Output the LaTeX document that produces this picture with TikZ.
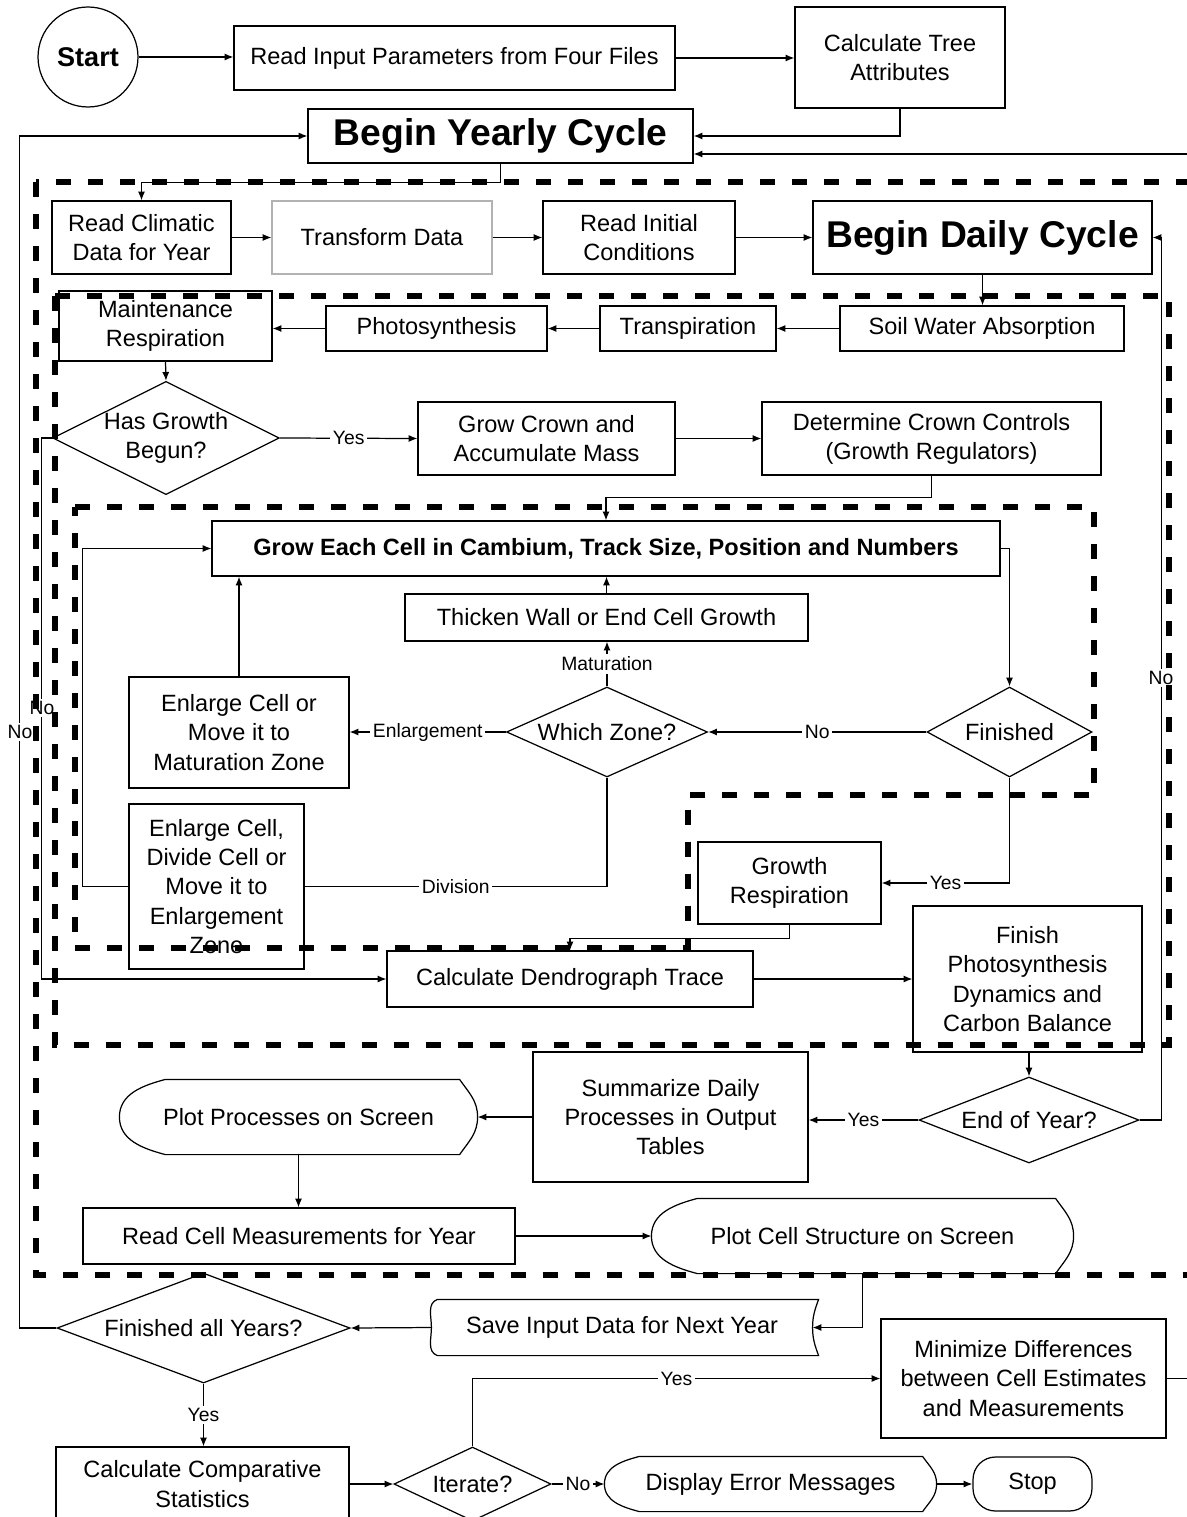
\documentclass[tikz,border=0pt]{standalone}
\usepackage{fontspec}
\setmainfont{Liberation Sans}
\usetikzlibrary{arrows.meta,shapes.geometric}
\newcommand{\boxfont}{\fontsize{13.4}{16.6}\selectfont}
\newcommand{\bigboxfont}{\fontsize{21.2}{25}\selectfont\bfseries}
\newcommand{\startfont}{\fontsize{15.4}{18}\selectfont\bfseries}
\newcommand{\lblfont}{\fontsize{11}{13}\selectfont}
% outline of a display node: #1 name, #2 left inset, #3 right inset
\newcommand{\screenshape}[3]{%
  \draw ([xshift=#2]#1.north west) -- ([xshift=-#3]#1.north east)
    to[out=-55,in=90] (#1.east) to[out=-90,in=55] ([xshift=-#3]#1.south east)
    -- ([xshift=#2]#1.south west) to[out=165,in=-90] (#1.west)
    to[out=90,in=195] ([xshift=#2]#1.north west);}
% outline of a stored data node
\newcommand{\storeshape}[1]{%
  \draw ([xshift=0.12cm]#1.north west) -- ([xshift=0.12cm]#1.north east)
    to[out=-110,in=90] (#1.east) to[out=-90,in=110] ([xshift=0.12cm]#1.south east)
    -- ([xshift=0.12cm]#1.south west) to[out=160,in=-90] (#1.west)
    to[out=90,in=200] ([xshift=0.12cm]#1.north west);}

\begin{document}
\begin{tikzpicture}[x=0.02cm, y=-0.02cm, line width=0.7pt,
    >={Latex[length=5pt,width=4pt]},
    box/.style={draw, align=center, inner sep=1pt, font=\boxfont},
    dec/.style={draw, diamond, aspect=2.5, inner sep=0pt, align=center, font=\boxfont},
    txt/.style={align=center, inner sep=0pt, font=\boxfont},
    lbl/.style={fill=white, inner sep=1.5pt, font=\lblfont},
    zone/.style={line width=3.1pt, dash pattern=on 0.3cm off 0.34cm}]
    \useasboundingbox (0,0) rectangle (1186,1517);

    % Start and yearly set-up
    \node[circle, draw, minimum size=2cm, inner sep=0pt, font=\startfont] (start) at (88,57) {Start};
    \node[box, minimum width=8.82cm, minimum height=1.28cm] (readin) at (454.5,58) {Read Input Parameters from Four Files};
    \node[box, minimum width=4.2cm, minimum height=2.02cm] (tree) at (900,57.5) {Calculate Tree\\Attributes};
    \node[box, font=\bigboxfont, minimum width=7.7cm, minimum height=1.08cm] (yearly) at (500.5,136) {Begin Yearly Cycle};

    \node[box, minimum width=3.58cm, minimum height=1.46cm] (climatic) at (141.5,237.5) {Read Climatic\\Data for Year};
    \node[box, draw=gray!60, minimum width=4.4cm, minimum height=1.46cm] (transform) at (382,237.5) {Transform Data};
    \node[box, minimum width=3.84cm, minimum height=1.46cm] (initial) at (639,237.5) {Read Initial\\Conditions};
    \node[box, font=\bigboxfont, minimum width=6.78cm, minimum height=1.46cm] (daily) at (982.5,237.5) {Begin Daily Cycle};

    % Daily processes
    \node[box, minimum width=4.26cm, minimum height=1.4cm] (maint) at (165.5,326) {Maintenance\\Respiration};
    \node[box, minimum width=4.42cm, minimum height=0.9cm] (photo) at (436.5,328.5) {Photosynthesis};
    \node[box, minimum width=3.52cm, minimum height=0.9cm] (transp) at (688,328.5) {Transpiration};
    \node[box, minimum width=5.68cm, minimum height=0.9cm] (soil) at (982,328.5) {Soil Water Absorption};

    \node[dec, aspect=2, minimum width=4.5cm, minimum height=2.2cm] (hasgrowth) at (166,438) {Has Growth\\Begun?};
    \node[box, minimum width=5.14cm, minimum height=1.46cm] (crown) at (546.5,438.5) {Grow Crown and\\Accumulate Mass};
    \node[box, minimum width=6.78cm, minimum height=1.46cm] (controls) at (931.5,438.5) {Determine Crown Controls\\(Growth Regulators)};

    % Cell loop
    \node[box, font=\boxfont\bfseries, minimum width=15.76cm, minimum height=1.1cm] (growcell) at (606,548.5) {Grow Each Cell in Cambium, Track Size, Position and Numbers};
    \node[box, minimum width=8.06cm, minimum height=0.94cm] (thicken) at (606.5,617.5) {Thicken Wall or End Cell Growth};
    \node[dec, minimum width=4.02cm, minimum height=1.8cm] (whichzone) at (607,732) {Which Zone?};
    \node[dec, minimum width=3.3cm, minimum height=1.8cm] (finished) at (1009.5,732) {Finished};
    \node[box, minimum width=4.4cm, minimum height=2.22cm] (enlarge) at (239,732.5) {Enlarge Cell or\\Move it to\\Maturation Zone};
    \node[box, minimum width=3.5cm, minimum height=3.3cm] (divide) at (216.5,886.5) {Enlarge Cell,\\Divide Cell or\\Move it to\\Enlargement\\Zone};
    \node[box, minimum width=3.66cm, minimum height=1.64cm] (growresp) at (789.5,883) {Growth\\Respiration};
    \node[box, minimum width=7.32cm, minimum height=1.12cm] (dendro) at (570,979) {Calculate Dendrograph Trace};
    \node[box, minimum width=4.58cm, minimum height=2.92cm] (finishps) at (1027.5,979) {Finish\\Photosynthesis\\Dynamics and\\Carbon Balance};

    % End of year
    \node[dec, minimum width=4.4cm, minimum height=1.72cm] (endyear) at (1029,1120) {End of Year?};
    \node[box, minimum width=5.5cm, minimum height=2.6cm] (summ) at (670.5,1117) {Summarize Daily\\Processes in Output\\Tables};
    \node[txt, minimum width=7.14cm, minimum height=1.48cm] (plotproc) at (298.5,1117) {Plot Processes on Screen};
    \node[box, minimum width=8.64cm, minimum height=1.12cm] (readcell) at (299,1236) {Read Cell Measurements for Year};
    \node[txt, minimum width=8.42cm, minimum height=1.48cm] (plotcell) at (862.5,1236) {Plot Cell Structure on Screen};
    \node[txt, minimum width=7.6cm, minimum height=1.1cm] (save) at (622,1327.5) {Save Input Data for Next Year};
    \screenshape{plotproc}{0.92cm}{0.36cm}
    \screenshape{plotcell}{0.92cm}{0.36cm}
    \storeshape{save}

    % Final checks
    \node[dec, minimum width=5.86cm, minimum height=2.2cm] (finall) at (203.5,1328) {Finished all Years?};
    \node[box, minimum width=5.86cm, minimum height=1.48cm] (calcstat) at (202.5,1484) {Calculate Comparative\\Statistics};
    \node[dec, minimum width=3.14cm, minimum height=1.48cm] (iterate) at (472.5,1484) {Iterate?};
    \node[box, minimum width=5.7cm, minimum height=2.38cm] (minimize) at (1023.5,1378.5) {Minimize Differences\\between Cell Estimates\\and Measurements};
    \node[txt, minimum width=6.62cm, minimum height=1.08cm] (errmsg) at (770.5,1484) {Display Error Messages};
    \node[box, rounded corners=0.45cm, minimum width=2.38cm, minimum height=1.08cm] (stop) at (1032.5,1484) {Stop};
    \screenshape{errmsg}{0.7cm}{0.28cm}

    % Connectors
    \draw[->] (start.east) -- (start.east -| readin.west);
    \draw[->] (readin.east) -- (readin.east -| tree.west);
    \draw[->] (tree.south) |- (yearly.east);
    \draw[->] (yearly.south) -- ++(0,19) -| (climatic.north);
    \draw[->] (climatic.east) -- (transform.west);
    \draw[->] (transform.east) -- (initial.west);
    \draw[->] (initial.east) -- (daily.west);
    \draw[->] (daily.south) -- (daily.south |- soil.north);
    \draw[->] (soil.west) -- (transp.east);
    \draw[->] (transp.west) -- (photo.east);
    \draw[->] (photo.west) -- (photo.west -| maint.east);
    \draw[->] (maint.south) -- (hasgrowth.north);
    \draw[->] (hasgrowth.east) -- node[lbl]{Yes} (crown.west);
    \draw[->] (crown.east) -- (controls.west);
    \draw[->] (controls.south) -- ++(0,22) -| (growcell.north);
    \draw[->] (growcell.east) -| (finished.north);
    \draw[->] (finished.west) -- node[lbl]{No} (whichzone.east);
    \draw[->] (whichzone.north) -- node[lbl]{Maturation} (whichzone.north |- thicken.south);
    \draw[->] (thicken.north) -- (thicken.north |- growcell.south);
    \draw[->] (whichzone.west) -- node[lbl]{Enlargement} (whichzone.west -| enlarge.east);
    \draw[->] (enlarge.north) -- (enlarge.north |- growcell.south);
    \draw (whichzone.south) |- node[lbl, pos=0.75]{Division} (divide.east);
    \draw[->] (divide.west) -- ++(-46,0) |- (growcell.west);
    \draw[->] (finished.south) |- node[lbl, pos=0.75]{Yes} (growresp.east);
    \draw[->] (growresp.south) -- ++(0,14) -| (dendro.north);
    \draw[->] (dendro.east) -- (dendro.east -| finishps.west);
    \draw[->] (finishps.south -| endyear.north) -- (endyear.north);
    \draw[->] (endyear.west) -- node[lbl]{Yes} (endyear.west -| summ.east);
    \draw[->] (endyear.east) -- ++(22,0) |- (daily.east);
    \node[lbl] (noday) at (1161,678) {No};
    \draw[->] (summ.west) -- (plotproc.east);
    \draw[->] (plotproc.south) -- (plotproc.south |- readcell.north);
    \draw[->] (readcell.east) -- (plotcell.west);
    \draw[->] (plotcell.south) |- (save.east);
    \draw[->] (save.west) -- (finall.east);
    \draw[->] (finall.south) -- node[lbl]{Yes} (finall.south |- calcstat.north);
    \draw[->] (calcstat.east) -- (iterate.west);
    \draw[->] (iterate.east) -- node[lbl]{No} (errmsg.west);
    \draw[->] (errmsg.east) -- (stop.west);
    \draw[->] (iterate.north) |- node[lbl, pos=0.75]{Yes} (minimize.west);
    \draw[->] (minimize.east) -- ++(40,0) |- ([yshift=-0.36cm]yearly.east);
    \draw[->] (finall.west) -- ++(-37,0) |- (yearly.west);
    \node[lbl] (noyear) at (20,732) {No};
    \draw[->] (hasgrowth.west) -- ++(-11,0) |- (dendro.west);
    \node[lbl] (nogrowth) at (42,708) {No};

    % Dashed loops
    \draw[zone] (36,182) rectangle (1200,1275);
    \draw[zone] (55,296) rectangle (1169,1045);
    \draw[zone] (75,507) -- (1094,507) -- (1094,795) -- (688,795) -- (688,948) -- (75,948) -- cycle;
\end{tikzpicture}
\end{document}
